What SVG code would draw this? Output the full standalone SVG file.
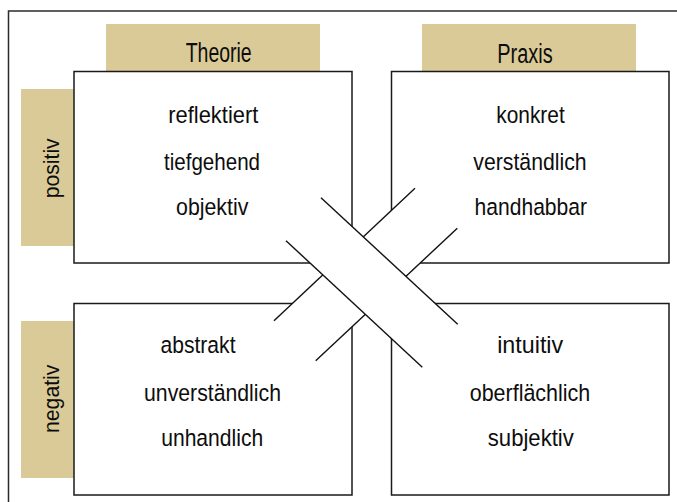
<svg xmlns="http://www.w3.org/2000/svg" width="677" height="502" viewBox="0 0 677 502">
  <style>
    .frame { fill: none; stroke: #2b2b2b; stroke-width: 1.5; }
    .tab { fill: #d9ca97; }
    .box { fill: #ffffff; stroke: #1a1a1a; stroke-width: 1.5; }
    .strap { fill: #ffffff; stroke: none; }
    .edge { stroke: #111111; stroke-width: 1.4; fill: none; }
    text { font-family: "Liberation Sans", Arial, sans-serif; fill: #0d0d0d; text-anchor: middle; }
    .head { font-size: 27px; }
    .item { font-size: 24.5px; }
    .side { font-size: 22px; }
  </style>

  <!-- outer frame, running past the right and bottom edges -->
  <rect class="frame" x="8.5" y="11" width="720" height="560"/>

  <!-- column headers -->
  <g id="tab-theorie">
    <rect class="tab" x="106" y="24" width="214" height="48"/>
    <text class="head" x="218.7" y="61.5" textLength="66" lengthAdjust="spacingAndGlyphs">Theorie</text>
  </g>
  <g id="tab-praxis">
    <rect class="tab" x="422" y="24" width="214" height="48"/>
    <text class="head" x="525" y="62.5" textLength="55.4" lengthAdjust="spacingAndGlyphs">Praxis</text>
  </g>

  <!-- row headers -->
  <g id="tab-positiv">
    <rect class="tab" x="21" y="89" width="54" height="157"/>
    <text class="side" transform="translate(58.8,168.3) rotate(-90)" textLength="60" lengthAdjust="spacingAndGlyphs">positiv</text>
  </g>
  <g id="tab-negativ">
    <rect class="tab" x="21" y="321" width="54" height="157"/>
    <text class="side" transform="translate(58.8,398.8) rotate(-90)" textLength="68.3" lengthAdjust="spacingAndGlyphs">negativ</text>
  </g>

  <!-- quadrants -->
  <g id="box-theorie-positiv">
    <rect class="box" x="74" y="71.5" width="278" height="191.5"/>
    <text class="item" x="213.3" y="123.3" textLength="90" lengthAdjust="spacingAndGlyphs">reflektiert</text>
    <text class="item" x="212" y="169.5" textLength="96" lengthAdjust="spacingAndGlyphs">tiefgehend</text>
    <text class="item" x="212.2" y="214.5" textLength="72.3" lengthAdjust="spacingAndGlyphs">objektiv</text>
  </g>
  <g id="box-praxis-positiv">
    <rect class="box" x="391.5" y="71.5" width="277.5" height="191.5"/>
    <text class="item" x="530.5" y="123.3" textLength="68.5" lengthAdjust="spacingAndGlyphs">konkret</text>
    <text class="item" x="530" y="169.5" textLength="113.3" lengthAdjust="spacingAndGlyphs">verständlich</text>
    <text class="item" x="530.8" y="214.5" textLength="112.5" lengthAdjust="spacingAndGlyphs">handhabbar</text>
  </g>
  <g id="box-theorie-negativ">
    <rect class="box" x="74" y="303.5" width="278" height="191.5"/>
    <text class="item" x="198" y="353.3" textLength="75" lengthAdjust="spacingAndGlyphs">abstrakt</text>
    <text class="item" x="212.5" y="400.5" textLength="137" lengthAdjust="spacingAndGlyphs">unverständlich</text>
    <text class="item" x="212.2" y="446" textLength="102" lengthAdjust="spacingAndGlyphs">unhandlich</text>
  </g>
  <g id="box-praxis-negativ">
    <rect class="box" x="391.5" y="303.5" width="277.5" height="191.5"/>
    <text class="item" x="530.2" y="353.3" textLength="66" lengthAdjust="spacingAndGlyphs">intuitiv</text>
    <text class="item" x="530" y="400.5" textLength="120.5" lengthAdjust="spacingAndGlyphs">oberflächlich</text>
    <text class="item" x="530.8" y="446" textLength="86" lengthAdjust="spacingAndGlyphs">subjektiv</text>
  </g>

  <!-- crossing straps: NE-SW strap passes under the NW-SE strap -->
  <g id="connectors">
    <g id="strap-ne-sw">
      <polygon class="strap" points="415,188.3 457.3,228.3 315.7,360.7 274,320.7"/>
      <line class="edge" x1="415" y1="188.3" x2="274" y2="320.7"/>
      <line class="edge" x1="457.3" y1="228.3" x2="315.7" y2="360.7"/>
    </g>
    <g id="strap-nw-se">
      <polygon class="strap" points="321,197.7 457.7,324.3 422.3,367.3 286,240.7"/>
      <line class="edge" x1="321" y1="197.7" x2="457.7" y2="324.3"/>
      <line class="edge" x1="286" y1="240.7" x2="422.3" y2="367.3"/>
    </g>
  </g>
</svg>
